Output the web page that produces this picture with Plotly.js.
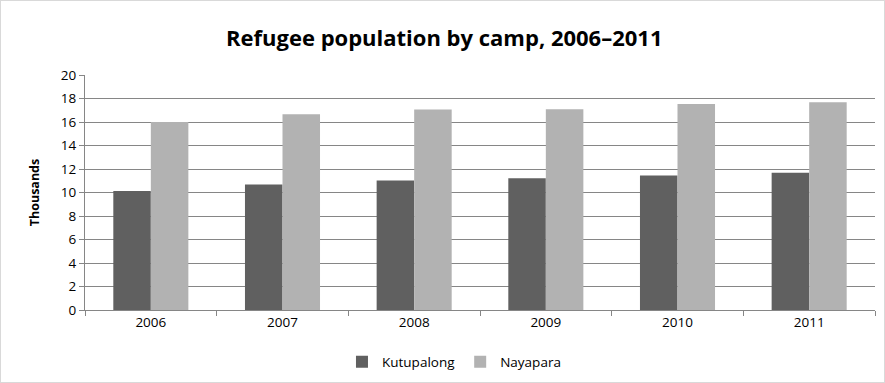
<!DOCTYPE html>
<html>
<head>
<meta charset="utf-8">
<script src="https://cdn.plot.ly/plotly-3.0.1.min.js"></script>
<style>
html,body{margin:0;padding:0;background:#fff;}
#chart{width:885px;height:383px;box-sizing:border-box;border:1px solid #d9d9d9;}
</style>
</head>
<body>
<div id="chart"></div>
<script>
var years = ['2006','2007','2008','2009','2010','2011'];
var kutupalong = [10.12, 10.69, 11.03, 11.22, 11.45, 11.68];
var nayapara = [16.01, 16.67, 17.07, 17.09, 17.54, 17.69];
var yTicks = [0,2,4,6,8,10,12,14,16,18,20];

var traces = [
  {type:'bar', name:'Kutupalong', x:years, y:kutupalong, marker:{color:'#606060'}, hoverinfo:'y'},
  {type:'bar', name:'Nayapara', x:years, y:nayapara, marker:{color:'#b2b2b2'}, hoverinfo:'y'}
];

var font = "'Open Sans', sans-serif";
var layout = {
  width:883, height:381,
  margin:{l:84, r:9, t:74, b:72},
  paper_bgcolor:'#fff', plot_bgcolor:'#fff',
  font:{family:font, size:13.5, color:'#000'},
  title:{text:'<b>Refugee population by camp, 2006–2011</b>', font:{family:font, size:22, color:'#000'},
         x:0.502, xanchor:'center', xref:'container', yref:'container', y:(381-37)/381, yanchor:'middle'},
  barmode:'group', bargap:0.43, bargroupgap:0,
  xaxis:{type:'category', showgrid:false, showline:true, linecolor:'#868686', linewidth:1,
         ticks:'outside', ticklen:5, tickcolor:'#868686', tickson:'boundaries',
         tickfont:{size:13.5}, fixedrange:true},
  yaxis:{range:[0,20], tickvals:yTicks, ticktext:yTicks.map(String), showgrid:true, gridcolor:'#868686', gridwidth:1,
         showline:true, linecolor:'#868686', linewidth:1, ticks:'outside', ticklen:5, tickcolor:'#868686',
         zeroline:false, tickfont:{size:13.5},
         title:{text:'<b>Thousands</b>', font:{size:12.5}, standoff:18}, fixedrange:true},
  showlegend:true,
  legend:{orientation:'h', x:0.513, xanchor:'center', xref:'container', yref:'container', y:(381-361)/381, yanchor:'middle',
          font:{size:13.5}, traceorder:'normal', itemwidth:30}
};
Plotly.newPlot('chart', traces, layout, {displayModeBar:false, staticPlot:true});
</script>
</body>
</html>
